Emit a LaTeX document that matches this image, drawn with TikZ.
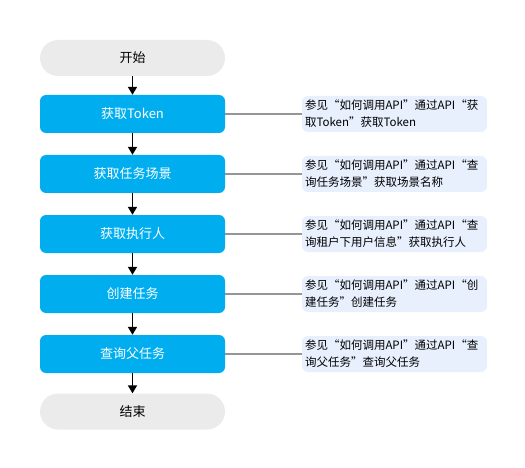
\documentclass[tikz,border=0pt]{standalone}
\usepackage{fontspec}
\setmainfont{Noto Sans CJK SC}
\usetikzlibrary{arrows.meta}
\definecolor{stepblue}{RGB}{0,174,239}
\definecolor{termgray}{RGB}{235,235,235}
\definecolor{notebg}{RGB}{232,240,254}
\definecolor{linkgray}{RGB}{150,150,150}
\begin{document}
\begin{tikzpicture}[x=1pt,y=-1pt,
  termbox/.style={fill=termgray,rounded corners=18pt,minimum width=185pt,minimum height=36pt,inner sep=0pt,font=\fontsize{13}{15}\selectfont,text=black},
  stepbox/.style={fill=stepblue,rounded corners=6pt,minimum width=185pt,minimum height=38pt,inner sep=0pt,font=\fontsize{13}{15}\selectfont,text=white},
  notebox/.style={fill=notebg,rounded corners=6pt,minimum width=185pt,minimum height=36pt,inner xsep=3pt,inner ysep=0pt,text width=179pt,align=left,font=\fontsize{11.5}{17}\selectfont,text=black},
  flow/.style={-{Triangle[length=8pt,width=9pt]},line width=1.8pt,black},
  link/.style={line width=2pt,linkgray}]
\useasboundingbox (0,0) rectangle (525,468);
\node[termbox] (start) at (132.5,58) {开始};
\node[stepbox] (s1) at (132.5,114) {获取Token};
\node[stepbox] (s2) at (132.5,174) {获取任务场景};
\node[stepbox] (s3) at (132.5,234) {获取执行人};
\node[stepbox] (s4) at (132.5,294) {创建任务};
\node[stepbox] (s5) at (132.5,354) {查询父任务};
\node[termbox] (end) at (132.5,411.5) {结束};
\node[notebox] (n1) at (394.5,114) {参见“如何调用API”通过API“获\\取Token”获取Token};
\node[notebox] (n2) at (394.5,174) {参见“如何调用API”通过API“查\\询任务场景”获取场景名称};
\node[notebox] (n3) at (394.5,234) {参见“如何调用API”通过API“查\\询租户下用户信息”获取执行人};
\node[notebox] (n4) at (394.5,294) {参见“如何调用API”通过API“创\\建任务”创建任务};
\node[notebox] (n5) at (394.5,354) {参见“如何调用API”通过API“查\\询父任务”查询父任务};
\draw[flow] (start) -- (s1);
\draw[flow] (s1) -- (s2);
\draw[flow] (s2) -- (s3);
\draw[flow] (s3) -- (s4);
\draw[flow] (s4) -- (s5);
\draw[flow] (s5) -- (end);
\draw[link] (s1) -- (n1);
\draw[link] (s2) -- (n2);
\draw[link] (s3) -- (n3);
\draw[link] (s4) -- (n4);
\draw[link] (s5) -- (n5);
\end{tikzpicture}
\end{document}
